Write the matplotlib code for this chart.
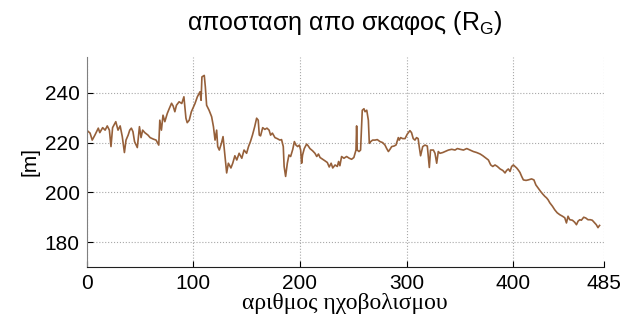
import matplotlib
matplotlib.use("Agg")
import matplotlib.pyplot as plt

# ping number (x) and distance from vessel in metres (y)
ping = [0, 3.2, 5.2, 7.7, 10.9, 12.3, 15, 17.3, 19.3, 21.3, 22.8, 24.3, 27.3, 29.4, 31.4, 33.4,
        35.4, 36.9, 38.9, 40.4, 41.9, 43.4, 44.9, 47.5, 49.5, 51, 52.5, 54.5, 57.5, 59.5, 62.5,
        65.1, 67.6, 68.6, 70.1, 71.6, 73.3, 75.6, 77.4, 79.6, 81.1, 82.7, 84.2, 86.7, 89.2, 91.2,
        93.1, 94.3, 96.2, 98.2, 101.6, 103.8, 106.3, 107.3, 108.1, 110.3, 111.3, 112.5, 114.8,
        117.2, 118.9, 120.4, 121.9, 122.9, 124.4, 126.4, 127.9, 129.6, 131.3, 132.9, 135.3, 137,
        139, 140.8, 143, 145.5, 147.6, 150, 151.8, 153.6, 155.5, 157.6, 159.4, 160.9, 161.9,
        163.1, 165.1, 167.1, 169.1, 171.1, 172.5, 174.2, 176.6, 178.7, 181.2, 182.8, 184.4,
        185.2, 186.6, 188.2, 189.7, 191.3, 193.3, 194.8, 196.3, 197.9, 199.5, 200.7, 201.6,
        202.5, 204.1, 206.3, 207.9, 209.4, 211.9, 214.1, 215.8, 217.4, 218.9, 221.4, 223.4,
        225.7, 227.5, 229.3, 230.8, 233, 235.1, 236.3, 237.5, 239.1, 241.3, 243.8, 246.3, 248.5,
        250.6, 252.6, 253.2, 253.8, 255.4, 256.9, 258.5, 260.1, 261.1, 262.7, 264.2, 265.1,
        266.4, 268.2, 270.4, 272.6, 275.1, 277.6, 279.8, 281.4, 283, 284.5, 286.1, 288.2, 290.1,
        292.3, 293.2, 294.5, 296.4, 298.6, 300.7, 303.2, 304.7, 306.3, 307.9, 309.4, 310.9,
        311.9, 313.2, 315.2, 317.3, 319.5, 321.4, 322.5, 325.2, 326.7, 328.3, 329.8, 331.4, 334,
        336.2, 339.3, 342.4, 345.5, 347.7, 350.3, 353.4, 356.5, 359.6, 362.7, 365.8, 369.1,
        371.6, 373.7, 376.8, 379, 380.9, 383, 385.2, 387.8, 390.3, 392.4, 393.9, 395.5, 397.1,
        398.6, 400.2, 401.7, 403.3, 404.8, 406.4, 408, 409.6, 412.1, 414.2, 417.3, 419.5, 421.3,
        423.5, 425.7, 427.6, 429.7, 431.3, 432.8, 434.4, 436.9, 439, 441.3, 443.8, 446.3, 448.4,
        450, 451.5, 453.1, 455.6, 457.7, 459.4, 460.9, 462.5, 464, 466.2, 468.1, 470.2, 472.4,
        474.2, 476.5, 478, 479.6, 480.5, 481.1]
dist = [225, 223.8, 221, 223, 225.8, 224, 226, 225, 226.7, 225, 218.4, 226, 228.4, 225, 226.7,
        222.4, 216, 221, 223, 225, 225.8, 224.4, 220.4, 218, 226.4, 222, 225, 224, 223, 222,
        221.4, 221, 219, 229, 225, 231, 228.4, 231.7, 233.6, 235.8, 234.7, 232.4, 235, 236.4,
        235.7, 238.4, 229.8, 228, 229, 232.4, 235.7, 238.4, 240.4, 237, 246.4, 247, 242.4, 235,
        233, 230.4, 226.4, 221, 225, 218.4, 217, 219.7, 222.4, 215, 207.8, 211.7, 209.8, 211.7,
        214.7, 213, 215.7, 213.7, 217, 215.7, 218.4, 220.4, 223, 226.4, 229.8, 229, 223,
        222.7, 226, 225.3, 225.8, 225, 223, 223.8, 222, 221.6, 221, 221.2, 218.4,
        210.4, 206.4, 211.7, 215, 214.4, 217.3, 220.4, 219, 218.4, 219, 217, 211.7,
        215, 217.6, 219.4, 218.6, 217.6, 216.7, 215.7, 214.4, 215.4, 214, 213.3, 212.7,
        212, 210.2, 211.7, 209.8, 211, 210.4, 212.4, 210.7, 214.4, 213.7, 214.4, 213.7, 213.3,
        214, 217, 226.7, 217, 216.4, 217, 233, 233.6, 232.4, 233, 229, 219.7,
        220.4, 221, 221, 221.2, 220.4, 220, 219, 217.6, 216.4, 217.3, 218.4, 218.6, 219,
        222, 221, 222, 221.6, 221.6, 223.4, 224.8, 224, 221.6, 221, 222, 221.6,
        218.4, 214.7, 218.4, 219, 218.6, 210, 217, 217, 215.7, 211.7, 216.4, 215.7, 216,
        216.4, 217, 217.3, 217, 217.6, 217.3, 217, 217.6, 217, 216.4, 216, 215.4,
        214.7, 214, 213, 211, 210.4, 211, 210.4, 209.4, 208.8, 207.8, 208.8, 209.4, 208.4,
        210.4, 211, 210.4, 209.8, 209, 208, 206.4, 205, 204.8, 205, 205.4, 205, 203,
        201.7, 200.4, 199.4, 198.4, 197.8, 197, 195.8, 194.4, 193, 191.8, 191, 190.4, 189.8,
        187.7, 190.4, 189, 188.8, 188, 187, 188.4, 189, 188.8, 190, 189.7, 189, 189,
        188.8, 187.7, 187, 185.8, 186.4, 186.7]

xticks = [0, 100, 200, 300, 400, 485]
yticks = [180, 200, 220, 240]

fig = plt.figure(figsize=(6.2, 3.27), dpi=100)
ax = fig.add_axes([0.1398, 0.1835, 0.834, 0.643])

ax.plot(ping, dist, color='#96603A', lw=1.2)

ax.set_xlim(0, 485)
ax.set_ylim(170, 254.5)
ax.set_xticks(xticks)
ax.set_yticks(yticks)
ax.grid(True, linestyle=':', color='#a8a8a8', lw=0.8)

for s in ['top', 'right']:
    ax.spines[s].set_visible(False)
ax.spines['left'].set_color('#808080')
ax.spines['bottom'].set_color('#202020')
ax.tick_params(direction='in', length=4, width=0.8, labelsize=15, pad=5)
for lab in ax.get_xticklabels() + ax.get_yticklabels():
    lab.set_family('Liberation Sans')

ax.set_title('αποσταση απο σκαφος (R$_\\mathregular{G}$)', family='Liberation Sans',
             fontsize=18, pad=19)
ax.set_xlabel('αριθμος ηχοβολισμου', family='Liberation Serif', fontsize=17, labelpad=0)
ax.set_ylabel('[m]', family='Liberation Sans', fontsize=15, labelpad=4)

fig.savefig('out.png', dpi=100)
